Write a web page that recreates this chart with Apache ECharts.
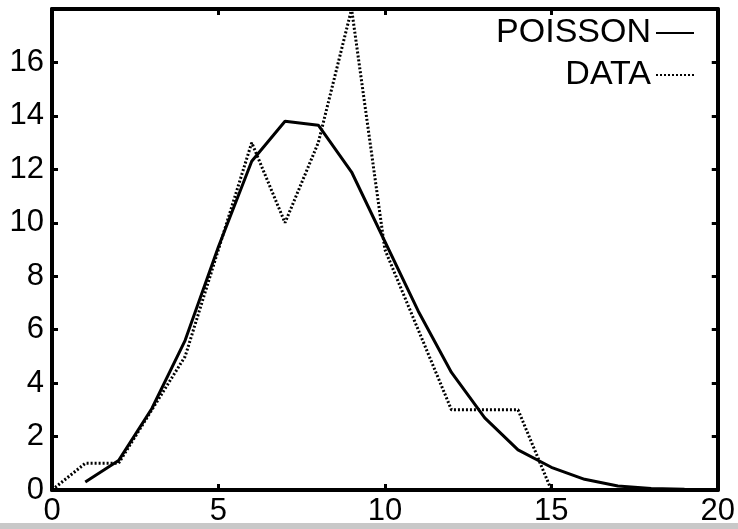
<!DOCTYPE html>
<html>
<head>
<meta charset="utf-8">
<script src="https://cdn.jsdelivr.net/npm/echarts@6/dist/echarts.min.js"></script>
<style>
  html, body { margin: 0; padding: 0; background: #fff; }
  #chart { width: 738px; height: 529px; }
</style>
</head>
<body>
<div id="chart"></div>
<script>
// values
var poissonX = [1, 2, 3, 4, 5, 6, 7, 8, 9, 10, 11, 12, 13, 14, 15, 16, 17, 18, 19, 20];
var poissonY = [0.3, 1.1, 3.05, 5.6, 9.1, 12.3, 13.8, 13.65, 11.9, 9.3, 6.7, 4.4, 2.7, 1.5, 0.85, 0.4, 0.15, 0.06, 0.03, 0.01];
var dataX = [0, 1, 2, 3, 4, 5, 6, 7, 8, 9, 10, 11, 12, 13, 14, 15];
var dataY = [0, 1, 1, 3, 5, 9, 13, 10, 13, 18, 9, 6, 3, 3, 3, 0];
var xTicks = [0, 5, 10, 15, 20];

var font = 'Liberation Sans, Arial, sans-serif';

function pairs(xs, ys) {
	return xs.map(function (x, i) { return [x, ys[i]]; });
}

var chart = echarts.init(document.getElementById('chart'));

var axisLine = { show: true, onZero: false, lineStyle: { color: '#000', width: 4 } };
var tick = { show: true, inside: true, length: 6, lineStyle: { color: '#000', width: 3 } };

var option = {
	backgroundColor: '#fff',
	animation: false,
	grid: { left: 52, right: 20, top: 9, bottom: 39 },
	legend: {
		right: 38,
		top: 11,
		orient: 'vertical',
		align: 'right',
		itemWidth: 38,
		itemHeight: 14,
		itemGap: 8,
		itemStyle: { opacity: 0 },
		textStyle: { fontFamily: font, fontSize: 34, color: '#000' },
		data: ['POISSON', 'DATA']
	},
	xAxis: [{
		type: 'value',
		min: 0, max: 20, interval: 5,
		axisLine: axisLine,
		axisTick: tick,
		splitLine: { show: false },
		axisLabel: {
			fontFamily: font, fontSize: 31, color: '#000', margin: 6,
			formatter: function (v) { return xTicks.indexOf(v) >= 0 ? String(v) : ''; }
		}
	}, {
		type: 'value',
		position: 'top',
		min: 0, max: 20, interval: 5,
		axisLine: axisLine,
		axisTick: tick,
		splitLine: { show: false },
		axisLabel: { show: false }
	}],
	yAxis: [{
		type: 'value',
		min: 0, max: 18, interval: 2,
		axisLine: axisLine,
		axisTick: tick,
		splitLine: { show: false },
		axisLabel: {
			fontFamily: font, fontSize: 31, color: '#000', margin: 8,
			showMaxLabel: false
		}
	}, {
		type: 'value',
		position: 'right',
		min: 0, max: 18, interval: 2,
		axisLine: axisLine,
		axisTick: tick,
		splitLine: { show: false },
		axisLabel: { show: false }
	}],
	series: [{
		name: 'POISSON',
		type: 'line',
		symbol: 'none',
		data: pairs(poissonX, poissonY),
		lineStyle: { color: '#000', width: 3 },
		itemStyle: { color: '#000' }
	}, {
		name: 'DATA',
		type: 'line',
		symbol: 'none',
		data: pairs(dataX, dataY),
		lineStyle: { color: '#000', width: 3, type: [2, 2] },
		itemStyle: { color: '#000' }
	}],
	graphic: [{
		type: 'rect',
		left: 0, bottom: 0,
		shape: { width: 738, height: 6 },
		style: { fill: '#c8c8c8' },
		silent: true
	}]
};

chart.setOption(option);
</script>
</body>
</html>
